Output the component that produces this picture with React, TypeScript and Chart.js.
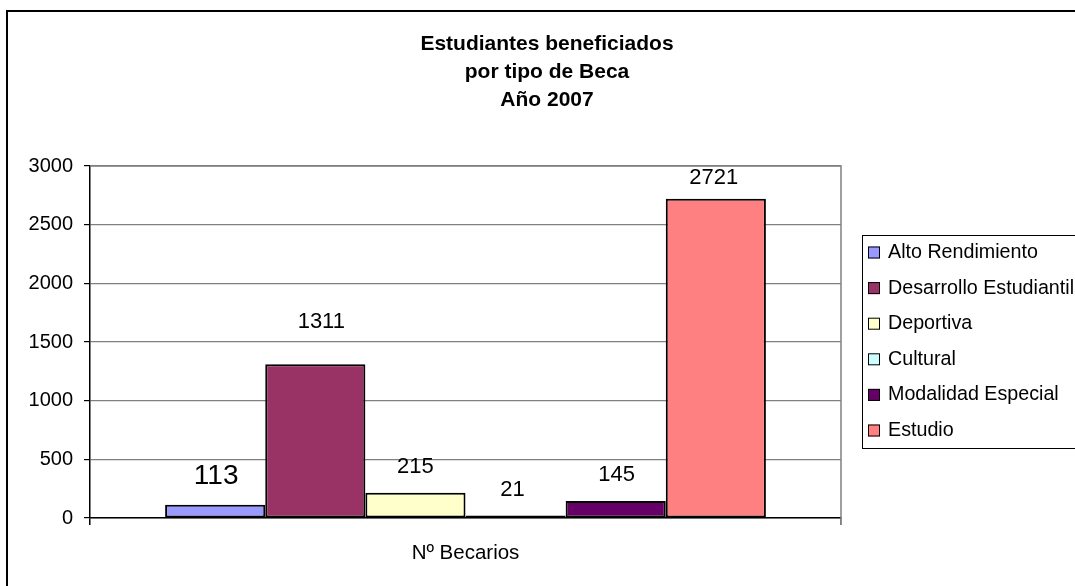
import React, { useEffect, useRef } from 'react';
import { Chart, registerables } from 'chart.js';

Chart.register(...registerables);

// ---------- data ----------
const titleLines = ['Estudiantes beneficiados', 'por tipo de Beca', 'Año 2007'];
const categories = ['Nº Becarios'];
const seriesNames = [
  'Alto Rendimiento',
  'Desarrollo Estudiantil',
  'Deportiva',
  'Cultural',
  'Modalidad Especial',
  'Estudio',
];
const seriesValues = [113, 1311, 215, 21, 145, 2721];
const yMin = 0;
const yMax = 3000;
const yStep = 500;

// ---------- styles ----------
const seriesColors = ['#9999FF', '#993366', '#FFFFCC', '#CCFFFF', '#660066', '#FF8080'];
const labelFontSizes = [28, 22, 22, 22, 22, 22];
const labelRaise = [28, 42, 25.5, 26, 26, 20.5];
const labelShiftX = [1, 6, 0, -3, 1, -2];

const FONT = '"Liberation Sans", Arial, Helvetica, sans-serif';
const CANVAS_W = 1078;
const CANVAS_H = 596;

const decorPlugin = {
  id: 'decor',
  afterDraw(chart: any) {
    const ctx = chart.ctx as CanvasRenderingContext2D;
    const area = chart.chartArea;
    ctx.save();

    // plot frame (top + right) in gray
    ctx.strokeStyle = '#808080';
    ctx.lineWidth = 1.5;
    ctx.beginPath();
    ctx.moveTo(area.left, area.top);
    ctx.lineTo(area.right, area.top);
    ctx.lineTo(area.right, area.bottom + 7);
    ctx.stroke();

    // data labels
    ctx.fillStyle = '#000';
    ctx.textAlign = 'center';
    ctx.textBaseline = 'middle';
    chart.data.datasets.forEach((ds: any, i: number) => {
      const meta = chart.getDatasetMeta(i);
      const bar = meta.data[0];
      if (!bar) return;
      ctx.font = `${labelFontSizes[i]}px ${FONT}`;
      ctx.fillText(String(ds.data[0]), bar.x + labelShiftX[i], bar.y - labelRaise[i]);
    });

    // title
    ctx.font = `bold 21px ${FONT}`;
    ctx.textBaseline = 'alphabetic';
    const titleBase = [38, 66, 94];
    titleLines.forEach((t, i) => ctx.fillText(t, CANVAS_W / 2, titleBase[i]));

    // legend
    const lx = 854;
    const ly = 223;
    const lw = 240;
    const lh = 213;
    ctx.strokeStyle = '#000';
    ctx.lineWidth = 1;
    ctx.strokeRect(lx + 0.5, ly + 0.5, lw, lh);
    ctx.font = `19.7px ${FONT}`;
    ctx.textAlign = 'left';
    ctx.textBaseline = 'middle';
    chart.data.datasets.forEach((ds: any, i: number) => {
      const cy = ly + 17.5 + i * 35.6;
      ctx.fillStyle = ds.backgroundColor;
      ctx.fillRect(lx + 6, cy - 6, 12, 12);
      ctx.strokeStyle = '#000';
      ctx.strokeRect(lx + 6.5, cy - 5.5, 11, 11);
      ctx.fillStyle = '#000';
      ctx.fillText(ds.label, lx + 26, cy);
    });

    ctx.restore();
  },
};

export default function App() {
  const canvasRef = useRef<HTMLCanvasElement | null>(null);

  useEffect(() => {
    if (!canvasRef.current) return;
    const datasets = seriesNames.map((name, i) => ({
      label: name,
      data: [seriesValues[i]],
      backgroundColor: seriesColors[i],
      borderColor: '#000',
      borderWidth: 2,
      borderSkipped: false as const,
      barPercentage: 1,
      categoryPercentage: 0.8,
    }));

    const chart = new Chart(canvasRef.current, {
      type: 'bar',
      data: { labels: categories, datasets },
      options: {
        responsive: false,
        animation: false,
        devicePixelRatio: 1,
        layout: { padding: { left: 0, top: 154, right: 245, bottom: 0 } },
        plugins: {
          legend: { display: false },
          title: { display: false },
          tooltip: { enabled: false },
        },
        scales: {
          x: {
            offset: true,
            grid: {
              offset: true,
              drawOnChartArea: false,
              drawTicks: true,
              tickLength: 7,
              color: (c: any) => (c.index === 0 ? '#000' : '#808080'),
              lineWidth: 1.5,
            },
            border: { color: '#000', width: 1.5 },
            ticks: { color: '#000', font: { family: FONT, size: 20.5 }, padding: 16 },
            afterFit: (s: any) => {
              s.height = 90;
            },
          },
          y: {
            min: yMin,
            max: yMax,
            ticks: {
              stepSize: yStep,
              color: '#000',
              font: { family: FONT, size: 20 },
              padding: 11,
              callback: (v: any) => String(v),
            },
            grid: { color: '#808080', tickColor: '#000', tickLength: 6, lineWidth: 1.2 },
            border: { color: '#000', width: 1.5 },
            afterFit: (s: any) => {
              s.width = 82;
            },
          },
        },
      },
      plugins: [decorPlugin],
    });
    return () => chart.destroy();
  }, []);

  return (
    <div style={{ position: 'fixed', left: 0, top: 0, width: 1075, height: 586, overflow: 'hidden', background: '#fff' }}>
      <div
        style={{
          position: 'absolute',
          left: 6,
          top: 10,
          width: CANVAS_W,
          height: CANVAS_H,
          border: '2px solid #000',
          background: '#fff',
        }}
      >
        <canvas ref={canvasRef} width={CANVAS_W} height={CANVAS_H} style={{ display: 'block' }} />
      </div>
    </div>
  );
}
